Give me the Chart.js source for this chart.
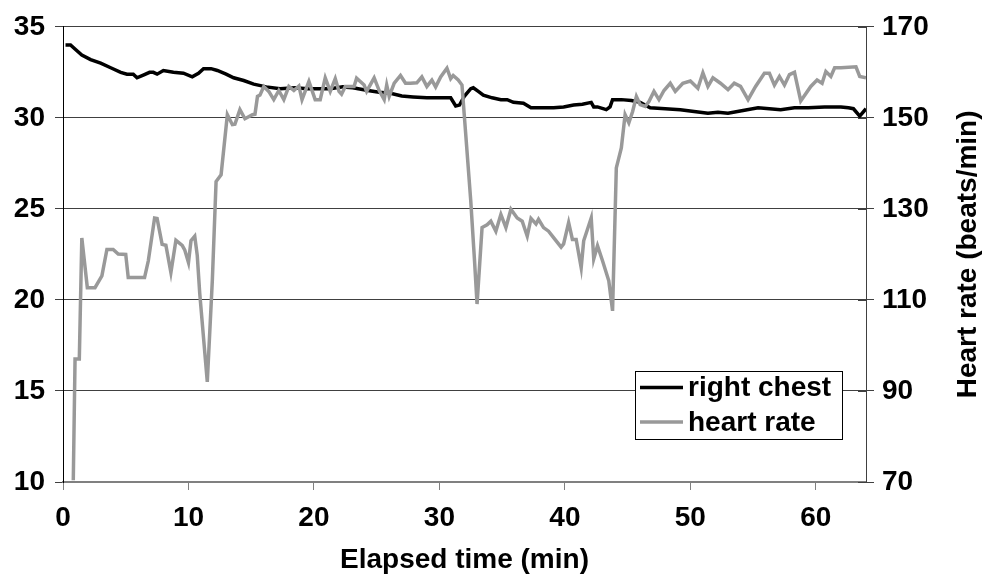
<!DOCTYPE html>
<html><head><meta charset="utf-8">
<script src="https://cdn.jsdelivr.net/npm/chart.js@4.4.1/dist/chart.umd.min.js"></script>
<style>html,body{margin:0;padding:0;background:#fff}canvas{display:block}</style>
</head><body>
<canvas id="c" width="989" height="574"></canvas>
<script>
// ---- data ----
const chestTime = [0.2,0.6,1.0,1.5,2.2,3.0,3.8,4.6,5.1,5.6,
  5.9,6.4,6.9,7.2,7.5,8.0,8.8,9.6,10.3,10.8,
  11.2,11.8,12.3,13.0,13.6,14.4,15.2,16.2,17.3,18.5,
  19.5,20.5,21.3,22.3,23.1,24.3,25.2,26.1,27.0,27.9,
  29.0,30.0,30.9,31.3,31.6,32.0,32.5,32.7,33.1,33.5,
  34.2,34.9,35.4,35.9,36.7,37.3,38.0,39.1,39.9,40.7,
  41.4,42.1,42.3,42.6,43.3,43.6,43.8,44.5,45.3,46.0,
  46.8,48.0,49.2,50.3,51.4,52.2,53.0,54.2,55.4,56.3,
  57.2,58.3,59.4,60.7,62.0,62.6,63.0,63.5,64.0];
const chestTemp = [34.0,34.0,33.75,33.45,33.2,33.0,32.75,32.5,32.4,32.4,
  32.2,32.35,32.5,32.5,32.4,32.6,32.5,32.45,32.25,32.45,
  32.7,32.7,32.6,32.4,32.2,32.05,31.85,31.7,31.6,31.65,
  31.6,31.6,31.6,31.7,31.65,31.5,31.4,31.35,31.2,31.15,
  31.1,31.1,31.1,30.65,30.7,31.2,31.6,31.65,31.45,31.25,
  31.1,31.0,31.0,30.85,30.8,30.55,30.55,30.55,30.6,30.7,
  30.75,30.85,30.6,30.6,30.45,30.6,31.0,31.0,30.95,30.85,
  30.55,30.5,30.45,30.35,30.25,30.3,30.25,30.4,30.55,30.5,
  30.45,30.55,30.55,30.6,30.6,30.55,30.5,30.1,30.5];
const hrTime = [0.82,0.96,1.3,1.5,1.94,2.55,3.1,3.5,4.0,4.4,
  5.0,5.2,6.5,6.8,7.3,7.5,7.9,8.2,8.6,9.0,
  9.5,9.7,10.0,10.2,10.5,10.7,10.9,11.5,11.9,12.2,
  12.6,13.1,13.5,13.7,14.1,14.5,15.1,15.3,15.5,15.7,
  16.0,16.4,16.8,17.2,17.6,18.0,18.4,18.8,19.05,19.6,
  20.1,20.5,20.9,21.3,21.7,22.0,22.2,22.5,23.2,23.4,
  24.0,24.2,24.8,25.2,25.6,25.8,26.0,26.4,26.9,27.3,
  27.7,28.2,28.6,29.0,29.4,29.7,30.1,30.6,30.9,31.1,
  31.5,31.8,32.1,32.5,32.8,33.0,33.4,33.8,34.1,34.5,
  34.9,35.3,35.7,36.2,36.6,37.0,37.3,37.7,37.9,38.3,
  38.7,39.1,39.7,39.9,40.3,40.6,40.9,41.3,41.5,42.1,
  42.3,42.6,43.0,43.5,43.8,44.1,44.5,44.8,45.1,45.4,
  45.7,46.0,46.4,46.7,47.1,47.5,47.9,48.4,48.8,49.4,
  50.0,50.6,51.0,51.4,51.8,52.4,53.0,53.5,54.0,54.6,
  55.2,55.9,56.3,56.7,57.1,57.5,57.9,58.3,58.8,59.6,
  60.1,60.5,60.8,61.2,61.5,62.0,63.2,63.5,64.0];
const hrRate = [70.4,97.0,97.0,123.6,112.7,112.7,115.3,121.1,121.1,120.1,
  120.0,114.9,114.9,118.6,128.0,127.9,122.2,122.0,116.0,123.1,
  122.0,121.0,118.2,123.0,124.0,119.8,111.4,92.0,114.2,136.0,
  137.5,150.7,148.5,148.6,151.8,149.8,150.7,150.8,154.7,155.0,
  156.9,155.8,154.0,156.0,154.0,156.9,156.0,157.0,154.0,158.0,
  154.0,154.0,158.8,155.8,158.6,155.8,155.2,156.9,156.9,158.7,
  157.2,155.8,158.8,156.0,154.0,157.2,154.7,157.6,159.3,157.6,
  157.6,157.7,159.0,156.9,158.3,156.8,159.0,160.9,158.6,159.3,
  158.3,157.2,146.3,131.7,118.6,109.1,125.9,126.5,127.3,125.1,
  128.8,125.9,129.9,128.0,127.3,124.0,127.9,126.7,127.7,125.9,
  125.1,123.7,121.6,122.3,127.0,123.3,123.3,117.1,123.0,128.0,
  119.0,121.9,118.6,114.2,107.6,139.0,143.4,150.7,148.9,151.4,
  154.7,152.9,152.5,153.6,155.8,154.0,156.0,157.6,155.8,157.6,
  158.1,156.5,159.9,156.9,158.8,157.6,156.2,157.6,156.9,154.0,
  156.9,159.8,159.8,157.2,159.1,157.2,159.5,160.0,153.7,156.9,
  158.3,157.6,160.2,159.1,161.0,161.0,161.2,159.1,158.8];
const xTicks = [0,10,20,30,40,50,60];
const leftTicks = [10,15,20,25,30,35];
const rightTicks = [70,90,110,130,150,170];
const seriesNames = ['right chest','heart rate'];
const xTitle = 'Elapsed time (min)';
const rightTitle = 'Heart rate (beats/min)';

// ---- chart ----
const FAM = "'Liberation Sans', Arial, Helvetica, sans-serif";
const toPts = (xs, ys) => xs.map((x, i) => ({x: x, y: ys[i]}));
const setTicks = arr => scale => { scale.ticks = arr.map(v => ({value: v})); };

const rightInnerTicks = {
  id: 'rightInnerTicks',
  afterDatasetsDraw(chart) {
    const s = chart.scales.y1, ca = chart.chartArea, ctx = chart.ctx;
    ctx.save();
    ctx.strokeStyle = '#404040'; ctx.lineWidth = 1;
    s.ticks.forEach(t => {
      const py = Math.round(s.getPixelForValue(t.value)) + 0.5;
      ctx.beginPath(); ctx.moveTo(ca.right - 8, py); ctx.lineTo(ca.right, py); ctx.stroke();
    });
    ctx.restore();
  }
};
const rightTitlePlugin = {
  id: 'rightTitlePlugin',
  afterDraw(chart) {
    const ca = chart.chartArea, ctx = chart.ctx;
    ctx.save();
    ctx.translate(968, (ca.top + ca.bottom) / 2);
    ctx.rotate(-Math.PI / 2);
    ctx.font = 'bold 28px ' + FAM;
    ctx.fillStyle = '#000'; ctx.textAlign = 'center'; ctx.textBaseline = 'middle';
    ctx.fillText(rightTitle, 0, 0);
    ctx.restore();
  }
};
const boxLegend = {
  id: 'boxLegend',
  afterDraw(chart) {
    const ctx = chart.ctx;
    const bx = 635, by = 371, bw = 207, bh = 68;
    ctx.save();
    ctx.fillStyle = '#fff'; ctx.fillRect(bx, by, bw, bh);
    ctx.strokeStyle = '#000'; ctx.lineWidth = 1; ctx.strokeRect(bx + 0.5, by + 0.5, bw, bh);
    ctx.font = 'bold 28px ' + FAM;
    ctx.textBaseline = 'middle'; ctx.textAlign = 'left';
    chart.data.datasets.forEach((ds, i) => {
      const cy = by + 16.5 + i * 34.5;
      ctx.strokeStyle = ds.borderColor; ctx.lineWidth = 3.5;
      ctx.beginPath(); ctx.moveTo(bx + 5, cy); ctx.lineTo(bx + 48, cy); ctx.stroke();
      ctx.fillStyle = '#000';
      ctx.fillText(ds.label, bx + 53, cy + 1);
    });
    ctx.restore();
  }
};

new Chart(document.getElementById('c'), {
  type: 'line',
  data: {
    datasets: [
      {label: seriesNames[0], data: toPts(chestTime, chestTemp), yAxisID: 'y',
       borderColor: '#000000', borderWidth: 3.5, pointRadius: 0, tension: 0, order: 1},
      {label: seriesNames[1], data: toPts(hrTime, hrRate), yAxisID: 'y1',
       borderColor: '#999999', borderWidth: 3.5, pointRadius: 0, tension: 0, order: 0}
    ]
  },
  options: {
    responsive: false, animation: false, devicePixelRatio: 1,
    layout: {padding: {top: 26, left: 0, right: 0, bottom: 0}},
    plugins: {legend: {display: false}, tooltip: {enabled: false}},
    scales: {
      x: {
        type: 'linear', position: 'bottom', min: 0, max: 64,
        afterBuildTicks: setTicks(xTicks),
        afterFit: s => { s.height = 92; },
        grid: {drawOnChartArea: false, drawTicks: true, tickLength: 8, color: '#808080'},
        border: {color: '#808080', width: 2},
        ticks: {color: '#000', font: {family: FAM, size: 28, weight: 'bold'}, padding: 11, maxRotation: 0},
        title: {display: true, text: xTitle, color: '#000', font: {family: FAM, size: 28, weight: 'bold', lineHeight: 1}, padding: 0}
      },
      y: {
        type: 'linear', position: 'left', min: 10, max: 35,
        afterBuildTicks: setTicks(leftTicks),
        afterFit: s => { s.width = 63; },
        grid: {color: '#404040', tickLength: 8},
        border: {color: '#000', width: 1},
        ticks: {color: '#000', font: {family: FAM, size: 28, weight: 'bold'}, padding: 10}
      },
      y1: {
        type: 'linear', position: 'right', min: 70, max: 170,
        afterBuildTicks: setTicks(rightTicks),
        afterFit: s => { s.width = 123; },
        grid: {drawOnChartArea: false, color: '#404040', tickLength: 8},
        border: {color: '#404040', width: 1},
        ticks: {color: '#000', font: {family: FAM, size: 28, weight: 'bold'}, padding: 8}
      }
    }
  },
  plugins: [rightInnerTicks, rightTitlePlugin, boxLegend]
});
</script>
</body></html>
